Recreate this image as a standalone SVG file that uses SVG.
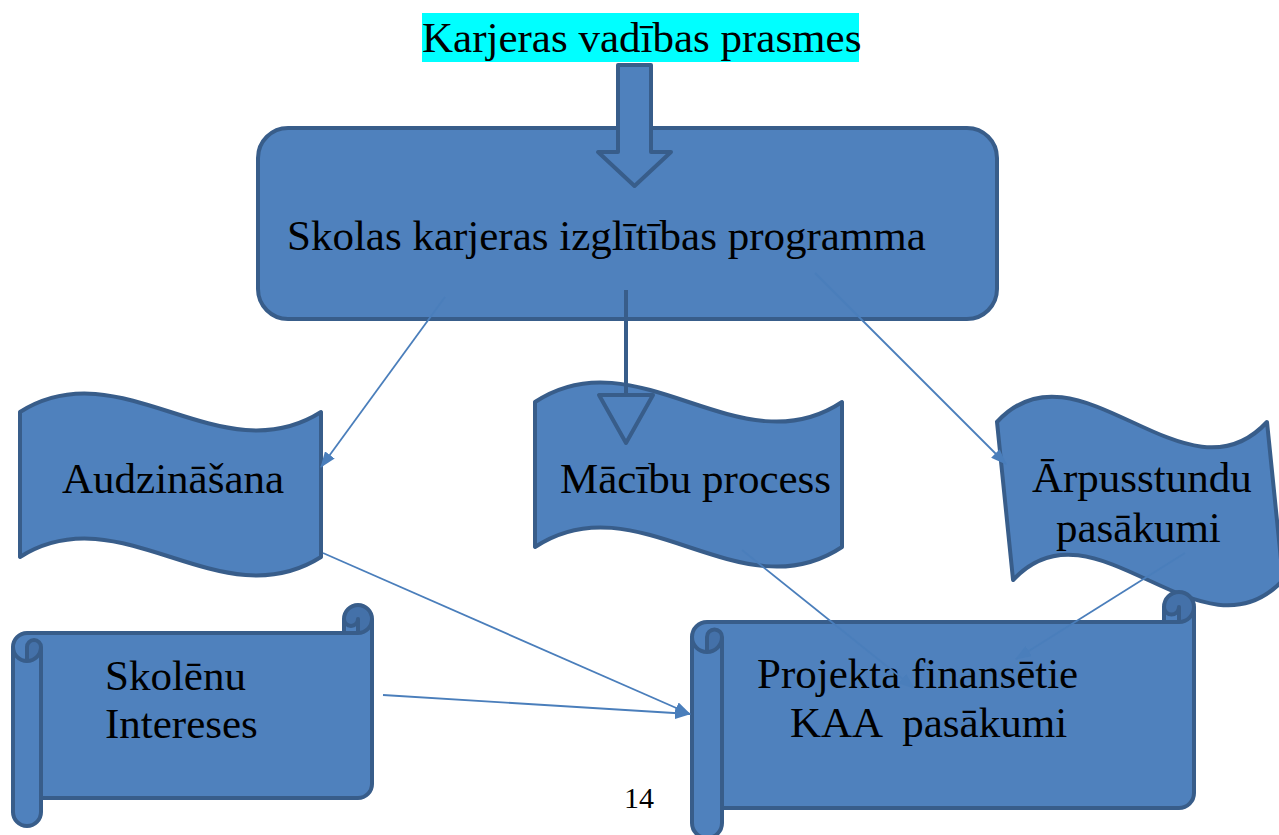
<svg xmlns="http://www.w3.org/2000/svg" width="1279" height="835" viewBox="0 0 1279 835">
<style>
.shape{fill:#4f81bd;stroke:#385d8a;stroke-width:4;stroke-linejoin:round}
.fill{fill:#4f81bd;stroke:none}
.dark{fill:#4471a9;stroke:none}
.line{fill:none;stroke:#385d8a;stroke-width:4;stroke-linejoin:round}
.t{font-family:"Liberation Serif","Times New Roman",serif;font-size:43px;fill:#000;white-space:pre}
.conn{fill:none;stroke:#4a7ebb;stroke-width:1.8;marker-end:url(#ah)}
</style>
<defs>
<marker id="ah" viewBox="0 0 16 12" refX="15" refY="6" markerWidth="16" markerHeight="12" markerUnits="userSpaceOnUse" orient="auto">
<path d="M0,0 L16,6 L0,12 Z" fill="#4a7ebb"/>
</marker>
</defs>
<rect width="1279" height="835" fill="#fff"/>

<g id="title">
<rect x="422" y="13" width="437" height="49" fill="#00ffff"/>
<text class="t" x="422" y="52">Karjeras vadības prasmes</text>
</g>

<g id="programma">
<rect class="shape" x="258" y="128" width="739" height="191" rx="30"/>
<text class="t" x="287" y="250">Skolas karjeras izglītības programma</text>
</g>

<g id="audzinasana">
<path class="shape" d="M20,412 C121,348 220,476 321,412 L321,557 C220,621 121,493 20,557 Z"/>
<text class="t" x="62" y="493">Audzināšana</text>
</g>

<g id="macibu">
<path class="shape" d="M535,402 C637,334 740,470 842,402 L842,547 C740,615 637,479 535,547 Z"/>
<text class="t" x="560" y="493">Mācību process</text>
</g>

<g id="arpusstundu">
<path class="shape" transform="translate(997,422) skewX(5.8)" d="M0,0 C90,-88 180,88 270,0 L270,158 C180,246 90,70 0,158 Z"/>
<text class="t" x="1032" y="492">Ārpusstundu</text>
<text class="t" x="1056" y="542">pasākumi</text>
</g>

<g id="skolenu">
<path class="fill" d="M372,619 A14,14 0 0 1 358,633 L358,619 A7,7 0 0 1 344,619 L344,633 L27,633 A14,14 0 0 0 13,647 L13,812 A14,14 0 0 0 41,812 L41,798 L358,798 A14,14 0 0 0 372,784 Z M27,661 A14,14 0 0 0 41,647 A7,7 0 0 0 27,647 Z"/>
<path class="dark" d="M27,661 A14,14 0 0 0 41,647 A7,7 0 0 0 27,647 Z M358,633 A14,14 0 1 0 344,619 A7,7 0 0 0 358,619 Z"/>
<path class="line" d="M13,647 A14,14 0 0 1 27,633 L344,633 L344,619 A14,14 0 0 1 372,619 L372,784 A14,14 0 0 1 358,798 L41,798 L41,812 A14,14 0 0 1 13,812 Z M344,633 L358,633 A14,14 0 0 0 372,619 M358,633 L358,619 A7,7 0 0 1 344,619 M27,661 L27,647 A7,7 0 0 1 41,647 A14,14 0 0 1 13,647 M41,647 L41,798"/>
<text class="t" x="105" y="690">Skolēnu</text>
<text class="t" x="105" y="738">Intereses</text>
</g>

<g id="projekta">
<path class="fill" d="M1194,607 A15,15 0 0 1 1179,622 L1179,607 A7.5,7.5 0 0 1 1164,607 L1164,622 L707,622 A15,15 0 0 0 692,637 L692,823 A15,15 0 0 0 722,823 L722,808 L1179,808 A15,15 0 0 0 1194,793 Z M707,652 A15,15 0 0 0 722,637 A7.5,7.5 0 0 0 707,637 Z"/>
<path class="dark" d="M707,652 A15,15 0 0 0 722,637 A7.5,7.5 0 0 0 707,637 Z M1179,622 A15,15 0 1 0 1164,607 A7.5,7.5 0 0 0 1179,607 Z"/>
<path class="line" d="M692,637 A15,15 0 0 1 707,622 L1164,622 L1164,607 A15,15 0 0 1 1194,607 L1194,793 A15,15 0 0 1 1179,808 L722,808 L722,823 A15,15 0 0 1 692,823 Z M1164,622 L1179,622 A15,15 0 0 0 1194,607 M1179,622 L1179,607 A7.5,7.5 0 0 1 1164,607 M707,652 L707,637 A7.5,7.5 0 0 1 722,637 A15,15 0 0 1 692,637 M722,637 L722,808"/>
<text class="t" x="757" y="688">Projekta finansētie</text>
<text class="t" x="790" y="737">KAA  pasākumi</text>
</g>

<g id="connectors">
<path class="shape" d="M618,65 L651,65 L651,152 L671,152 L634.5,186 L598,152 L618,152 Z"/>
<path class="line" d="M626,290 L626,395 M599,395 L653,395 L626,443 Z"/>
<line class="conn" x1="445" y1="297" x2="321" y2="467"/>
<line class="conn" x1="815" y1="273" x2="1006" y2="464"/>
<line class="conn" x1="323" y1="553" x2="690" y2="714"/>
<line class="conn" x1="383" y1="695" x2="690" y2="714"/>
<line class="conn" x1="742" y1="550" x2="914" y2="688"/>
<line class="conn" x1="1185" y1="553" x2="1016" y2="659"/>
</g>

<text id="page" x="624" y="808" font-family="Liberation Serif, serif" font-size="30">14</text>
</svg>
